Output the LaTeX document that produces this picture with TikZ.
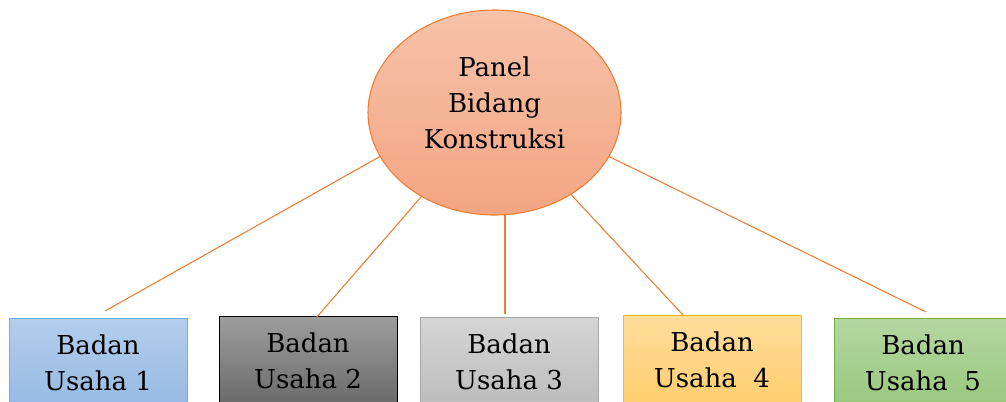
\documentclass[tikz,border=0pt]{standalone}
\usepackage{fontspec}
\setmainfont{DejaVu Serif}
\usetikzlibrary{shapes.geometric}
\usetikzlibrary{positioning}

\definecolor{linkorange}{HTML}{ED7D31}
\definecolor{paneltop}{HTML}{F6C2A9}
\definecolor{panelbot}{HTML}{F4A582}

\begin{document}
\begin{tikzpicture}[x=0.75pt,y=-0.75pt,
    every node/.style={font=\fontsize{19.5}{27}\selectfont, align=center, text=black},
    link/.style={draw=linkorange, line width=0.8pt},
    panel/.style={ellipse, draw=linkorange, line width=0.8pt, top color=paneltop, bottom color=panelbot,
        minimum width=189.75pt, minimum height=153.75pt, inner sep=0pt, outer sep=0pt, text depth=15pt},
    usaha/.style={rectangle, anchor=north, line width=0.75pt, minimum width=133.5pt,
        inner xsep=0pt, inner ysep=12.5pt, outer sep=0pt}]

    % Frame
    \useasboundingbox (0,0) rectangle (1006,401);

    % Panel
    \node[panel] (root) at (494.5,112.5) {Panel\\Bidang\\Konstruksi};

    % Badan usaha
    \node[usaha, draw=blue!55!cyan!60!white, top color={rgb,255:red,180;green,205;blue,235}, bottom color={rgb,255:red,150;green,186;blue,228}] (bu1) at (98,318) {Badan\\Usaha 1};
    \node[usaha, draw=black, top color={rgb,255:red,158;green,158;blue,158}, bottom color={rgb,255:red,105;green,105;blue,105}] (bu2) at (308,316) {Badan\\Usaha 2};
    \node[usaha, draw={rgb,255:red,166;green,166;blue,166}, top color={rgb,255:red,213;green,213;blue,213}, bottom color={rgb,255:red,188;green,188;blue,188}] (bu3) at (509,317) {Badan\\Usaha 3};
    \node[usaha, draw={rgb,255:red,255;green,192;blue,0}, top color={rgb,255:red,255;green,221;blue,156}, bottom color={rgb,255:red,255;green,206;blue,110}] (bu4) at (712,315) {Badan\\Usaha~~4};
    \node[usaha, draw={rgb,255:red,112;green,173;blue,71}, top color={rgb,255:red,181;green,215;blue,163}, bottom color={rgb,255:red,152;green,199;blue,124}] (bu5) at (923,318) {Badan\\Usaha~~5};

    % Links
    \coordinate (e1) at (105,311);
    \coordinate (e2) at (316,318);
    \coordinate (e3) at (505,314);
    \coordinate (e4) at (683,315);
    \coordinate (e5) at (926,312);
    \draw[link] (root.201.6) -- (e1);
    \draw[link] (root.229.6) -- (e2);
    \draw[link] (root.south -| e3) -- (e3);
    \draw[link] (root.313.6) -- (e4);
    \draw[link] (root.339.6) -- (e5);
\end{tikzpicture}
\end{document}
